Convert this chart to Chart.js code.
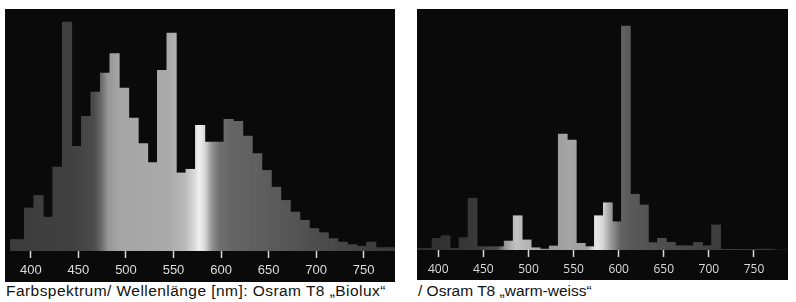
<!DOCTYPE html>
<html>
<head>
<meta charset="utf-8">
<script src="https://cdn.jsdelivr.net/npm/chart.js@4.4.1/dist/chart.umd.min.js"></script>
<style>
  html, body { margin: 0; padding: 0; background: #fff; }
  body { width: 796px; height: 302px; position: relative; overflow: hidden; }
  .panel { position: absolute; background: #0a0a0a; }
  .panel canvas { position: absolute; top: 0; }
  .caption { position: absolute; font: 15.5px "Liberation Sans", Arial, sans-serif; line-height: 18px; color: #111; white-space: nowrap; }
</style>
</head>
<body>
<div class="panel" id="leftPanel" style="left:5px; top:9px; width:390px; height:273px;">
  <canvas id="biolux" width="385" height="273" style="left:5px;"></canvas>
</div>
<div class="panel" id="rightPanel" style="left:417px; top:9px; width:371px; height:271px;">
  <canvas id="warm" width="371" height="271" style="left:0;"></canvas>
</div>
<div class="caption" style="left:6px; top:282px; letter-spacing:0.45px;">Farbspektrum/ Wellenlänge [nm]: Osram T8 „Biolux“</div>
<div class="caption" style="left:418px; top:282px;">/ Osram T8 „warm-weiss“</div>

<script>
// ---- Data ----
// bin centres in nm (10 nm bins)
const WAVELENGTHS = [378, 388, 398, 408, 418, 428, 438, 448, 458, 468, 478, 488, 498, 508, 518, 528, 538, 548, 558, 568,
  578, 588, 598, 608, 618, 628, 638, 648, 658, 668, 678, 688, 698, 708, 718, 728, 738, 748, 758, 768, 778, 788];
// relative intensity, highest bar = 100
const BIOLUX = [5.0, 5.0, 18.8, 24.3, 14.8, 36.7, 100, 45.7, 58.8, 69.4, 77.7, 86.2, 71.2, 58.1, 46.9, 38.6, 78.9, 95.2, 34.1, 35.7,
  54.9, 47.6, 47.6, 57.5, 56.6, 50.2, 42.5, 35.2, 27.9, 22.1, 17.0, 13.4, 9.8, 8.0, 5.4, 3.9, 2.8, 2.1, 3.9, 1.5, 1.5, 1.5];
const WARM_WEISS = [0.8, 0.8, 5.2, 6.4, 0.8, 5.5, 23.1, 1.5, 1.5, 1.5, 4.0, 15.3, 4.5, 1.0, 0.4, 1.8, 51.8, 49.1, 3.0, 1.5,
  15.3, 21.1, 12.6, 100, 24.9, 20.1, 3.3, 5.2, 3.4, 1.9, 1.9, 3.4, 1.9, 11.2, 0.3, 0.3, 0.3, 0.3, 0.4, 0.4, 0, 0];
const TICKS = [400, 450, 500, 550, 600, 650, 700, 750];

// ---- Styles ----
// grey level of the spectrum strip along the wavelength axis
const SHADE_BIOLUX = [[370, 60], [440, 64], [466, 74], [473, 100], [481, 150], [492, 165], [545, 170], [562, 185],
  [571, 215], [577, 240], [583, 215], [590, 150], [598, 112], [610, 102], [650, 92], [700, 78], [750, 64], [790, 56]];
const SHADE_WARM = [[370, 46], [440, 56], [466, 75], [474, 150], [486, 195], [500, 180], [520, 150], [545, 165], [565, 160],
  [575, 230], [582, 215], [592, 150], [602, 100], [612, 90], [650, 78], [710, 62], [790, 50]];

function spectrumFill(shades) {
  return (ctx) => {
    const chart = ctx.chart;
    const area = chart.chartArea;
    if (!area) return '#555';
    const xs = chart.scales.x;
    const g = chart.ctx.createLinearGradient(area.left, 0, area.right, 0);
    shades.forEach(([w, v]) => {
      const t = (xs.getPixelForValue(w) - area.left) / area.width;
      g.addColorStop(Math.min(1, Math.max(0, t)), `rgb(${v},${v},${v})`);
    });
    return g;
  };
}

function makeSpectrum(id, values, shades, opts) {
  return new Chart(document.getElementById(id), {
    type: 'bar',
    data: {
      labels: WAVELENGTHS,
      datasets: [{
        data: values,
        backgroundColor: spectrumFill(shades),
        borderWidth: 0,
        barPercentage: 1,
        categoryPercentage: 1
      }]
    },
    options: {
      responsive: false,
      animation: false,
      devicePixelRatio: 1,
      layout: { padding: 0 },
      plugins: { legend: { display: false }, tooltip: { enabled: false } },
      scales: {
        x: {
          type: 'linear',
          min: opts.xMin,
          max: opts.xMax,
          offset: false,
          afterBuildTicks: (s) => { s.ticks = TICKS.map(v => ({ value: v })); },
          afterFit: (s) => { s.height = opts.axisHeight; },
          grid: { display: true, offset: false, drawOnChartArea: false, drawTicks: true, tickLength: 7, tickWidth: 1.5, tickColor: '#d8d8d8' },
          border: { display: false },
          ticks: { color: '#dcdcdc', padding: opts.labelPad, maxRotation: 0, autoSkip: false, font: opts.font }
        },
        y: { display: false, min: 0, max: opts.yMax }
      }
    }
  });
}

makeSpectrum('biolux', BIOLUX, SHADE_BIOLUX, {
  xMin: 378, xMax: 783, yMax: 105.7, axisHeight: 31, labelPad: 5,
  font: { family: '"Liberation Sans", Arial, sans-serif', size: 13 }
});
makeSpectrum('warm', WARM_WEISS, SHADE_WARM, {
  xMin: 376.4, xMax: 787.7, yMax: 107.6, axisHeight: 30, labelPad: 5,
  font: { family: '"Open Sans", sans-serif', size: 12 }
});
</script>
</body>
</html>
